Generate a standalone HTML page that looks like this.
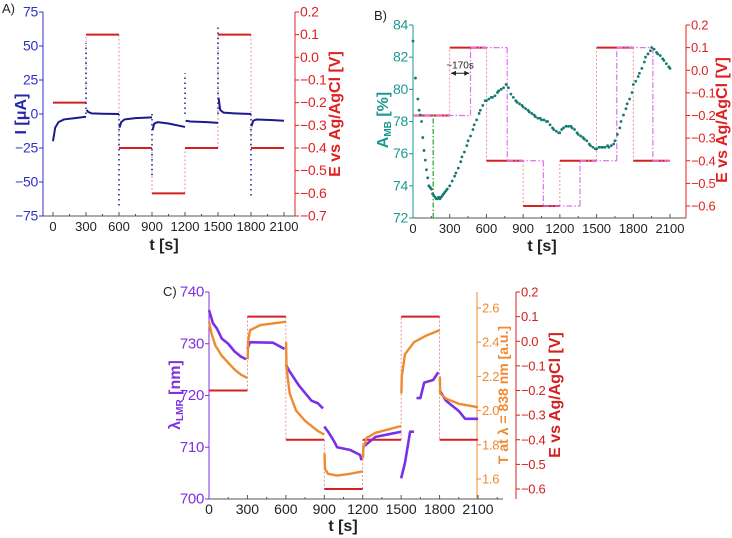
<!DOCTYPE html>
<html><head><meta charset="utf-8"><style>
body{margin:0;background:#fff;width:732px;height:538px;overflow:hidden}
svg{display:block;font-family:"Liberation Sans",sans-serif}
</style></head><body>
<svg id="fig" width="732" height="538"></svg>
<script>
// ---- shared potential program ----
const stepT = [0,300,600,900,1200,1500,1800,2100];
const stepE = [-0.2,0.1,-0.4,-0.6,-0.4,0.1,-0.4];
// ---- Panel A: current ----
const aSegs = [
 [[0,-20],[10,-15],[20,-10],[50,-6],[100,-4],[200,-3],[300,-2]],
 [[305,3],[320,1.5],[350,0.5],[450,0.2],[600,0]],
 [[605,-10],[620,-6],[650,-4],[750,-3],[900,-2.5]],
 [[905,-12],[920,-7],[950,-6],[1050,-7],[1200,-9.5]],
 [[1205,-5],[1250,-5.5],[1400,-6],[1500,-6.5]],
 [[1505,12],[1520,3],[1550,1],[1650,0.5],[1800,0]],
 [[1805,-9],[1820,-5],[1850,-4],[2000,-4.5],[2100,-5]]];
const aSpikeT = [300,600,900,1200,1500,1800];
const aSpikeV = [52,-68,-45,30,65,-61];
// ---- Panel B ----
const bT = [0,20,40,50,60,70,80,90,100,110,120,130,140,150,160,170,180,190,200,210,220,230,240,250,260,270,280,300,320,340,350,370,390,400,420,440,450,470,490,500,520,540,550,570,590,600,620,640,650,670,690,700,720,740,760,780,800,820,840,850,870,890,900,920,940,950,970,990,1000,1020,1040,1050,1070,1090,1100,1120,1140,1150,1170,1190,1200,1215,1230,1250,1270,1290,1300,1320,1340,1350,1370,1390,1400,1420,1440,1450,1470,1490,1500,1520,1540,1550,1570,1590,1600,1620,1640,1650,1670,1690,1700,1720,1740,1750,1770,1790,1800,1820,1840,1850,1870,1890,1900,1920,1940,1950,1970,1990,2000,2020,2040,2050,2070,2090,2100];
const bA = [83,80.7,79.4,78.7,78.4,78,77,76.2,75.6,75,74.5,74,73.9,73.8,73.5,73.4,73.3,73.2,73.2,73.3,73.2,73.3,73.4,73.5,73.6,73.7,73.8,74,74.3,74.6,74.8,75.1,75.5,75.8,76.1,76.5,76.8,77.1,77.5,77.8,78.1,78.5,78.7,79,79.3,79.3,79.4,79.5,79.5,79.6,79.8,79.9,80,80.1,80.3,80.1,79.7,79.5,79.3,79.2,79.1,79,78.9,78.8,78.7,78.6,78.5,78.4,78.3,78.2,78.2,78.1,78.1,78,78,77.8,77.6,77.5,77.4,77.3,77.3,77.5,77.6,77.7,77.7,77.7,77.6,77.5,77.3,77.2,77.1,77,76.9,76.8,76.6,76.5,76.4,76.3,76.3,76.4,76.4,76.4,76.4,76.5,76.4,76.5,76.6,76.8,77.2,77.6,78,78.4,78.8,79.1,79.4,79.8,80.3,80.5,80.8,81,81.3,81.7,82,82.2,82.4,82.6,82.5,82.3,82.2,82.1,81.9,81.8,81.6,81.4,81.3];
const bShiftT = [0,470,770,1065,1365,1665,1960,2100];
// ---- Panel C ----
const cLamSegs = [
 [[0,736.5],[30,734],[60,733],[100,731],[150,730],[200,728.5],[250,727.5],[290,727]],
 [[300,729],[320,730.3],[500,730.2],[590,729]],
 [[600,726],[620,725],[700,722],[750,720.5],[800,719],[850,718.5],[890,717.5]],
 [[900,714],[930,713],[980,711],[1000,710],[1100,709.5],[1180,708.5],[1190,707.5]],
 [[1200,710],[1250,711],[1300,712],[1400,712.5],[1500,713]],
 [[1500,704],[1530,707],[1550,710],[1570,713],[1600,713]],
 [[1620,719.5],[1650,719.5],[1680,722.5],[1750,723],[1790,724.5]],
 [[1800,721],[1850,719],[1900,718],[1950,717],[2000,715.5],[2100,715.5]]];
const cTSegs = [
 [[0,2.52],[20,2.45],[50,2.38],[100,2.32],[150,2.28],[200,2.24],[250,2.21],[300,2.19]],
 [[302,2.3],[305,2.4],[320,2.47],[400,2.5],[500,2.51],[600,2.52]],
 [[602,2.4],[605,2.25],[630,2.1],[680,2.0],[750,1.94],[850,1.88],[900,1.86]],
 [[902,1.75],[905,1.66],[930,1.63],[1000,1.62],[1100,1.63],[1200,1.645]],
 [[1202,1.72],[1205,1.78],[1230,1.84],[1300,1.87],[1400,1.89],[1500,1.91]],
 [[1502,2.1],[1505,2.2],[1530,2.33],[1600,2.4],[1700,2.44],[1800,2.47]],
 [[1802,2.2],[1805,2.1],[1850,2.07],[1950,2.04],[2100,2.02]]];
const xTicks = [0,300,600,900,1200,1500,1800,2100];

const NS="http://www.w3.org/2000/svg";
const svg=document.getElementById('fig');
function el(tag,attrs,parent,text){const e=document.createElementNS(NS,tag);for(const k in attrs)e.setAttribute(k,attrs[k]);if(text!==undefined)e.textContent=text;(parent||svg).appendChild(e);return e;}
function lin(d0,d1,r0,r1){return v=>r0+(v-d0)/(d1-d0)*(r1-r0);}
function fmt(v,dec){let s=v.toFixed(dec);if(v<0)s='\u2212'+s.slice(1);return s;}

function xAxis(g,x,y0,xl,xr,col,fs){
  const a=el('line',{x1:xl,y1:y0,x2:xr,y2:y0,stroke:col,'stroke-width':1},g);
  
  for(let t=0;t<=2300;t+=150){const px=x(t);if(px>xr)break;el('line',{x1:px,y1:y0,x2:px,y2:y0-(t%300?2:4),stroke:col},g);}
  xTicks.forEach(t=>{const tx=el('text',{x:x(t),y:y0+15,'text-anchor':'middle','font-size':fs||13,fill:'#222'},g,t);
    });
}
function yAxis(g,ax,y,ytop,ybot,ticks,dec,col,side,fs){
  const a=el('line',{x1:ax,y1:ytop,x2:ax,y2:ybot,stroke:col,'stroke-width':1},g);
  
  ticks.forEach(v=>{const py=y(v);
    el('line',{x1:ax,y1:py,x2:ax+(side<0?-4:4),y2:py,stroke:col},g);
    const tx=el('text',{x:ax+(side<0?-5:5),y:py+4.5,'text-anchor':side<0?'end':'start','font-size':fs||13,fill:col,'letter-spacing':'-0.3'},g,fmt(v,dec));
    });
}
function vtitle(g,x,y,txt,col,name,fs){const t=el('text',{x:x,y:y,transform:`rotate(-90 ${x} ${y})`,'text-anchor':'middle','font-size':fs||15,'font-weight':'bold',fill:col},g);
  t.innerHTML=txt;return t;}
function steps(g,x,yE,ts,col,w,name){
  for(let i=0;i<stepE.length;i++){
    const s=el('line',{x1:x(ts[i]),y1:yE(stepE[i]),x2:x(ts[i+1]),y2:yE(stepE[i]),stroke:col,'stroke-width':w},g);
    
    if(i>0){const v=el('line',{x1:x(ts[i]),y1:yE(stepE[i-1]),x2:x(ts[i]),y2:yE(stepE[i]),stroke:col,'stroke-width':0.8,'stroke-dasharray':'2,2','opacity':0.6},g);
      }
  }
}
function segs(g,x,y,arr,col,w,name){arr.forEach(s=>{const p=el('polyline',{points:s.map(q=>x(q[0])+','+y(q[1])).join(' '),fill:'none',stroke:col,'stroke-width':w,'stroke-linejoin':'round'},g);
  });}

// ===== Panel A =====
(function(){
 const g=el('g',{});
 const x=lin(0,2100,53,284), y=lin(75,-75,12,216), yE=lin(0.2,-0.7,12,216);
 el('text',{x:2,y:13,'font-size':13,fill:'#222'},g,'A)');
 xAxis(g,x,216,43,295,'#555');
 yAxis(g,43,y,12,216,[75,50,25,0,-25,-50,-75],0,'#3030c8',-1,14);
 yAxis(g,295,yE,12,216,[0.2,0.1,0,-0.1,-0.2,-0.3,-0.4,-0.5,-0.6,-0.7],1,'#e02020',1,14);
 steps(g,x,yE,stepT,'#d42020',2,'potential-step');
 segs(g,x,y,aSegs,'#1a1a8c',2,'current-trace');
 aSpikeT.forEach((t,i)=>{const s=el('line',{x1:x(t),y1:y(0),x2:x(t),y2:y(aSpikeV[i]),stroke:'#2a2aa0','stroke-width':1.6,'stroke-dasharray':'1.5,3.5'},g);
   });
 vtitle(g,26,114,'I [μA]','#2525b0','y-axis-title-current',16);
 vtitle(g,340,114,'E vs Ag/AgCl [V]','#e02020','y-axis-title-potential',16);
 const xt=el('text',{x:164,y:250,'text-anchor':'middle','font-size':16,'font-weight':'bold',fill:'#222'},g,'t [s]');
 
})();

// ===== Panel B =====
(function(){
 const g=el('g',{});
 const x=lin(0,2100,413,670), y=lin(84,72,25,218), yE=lin(0.2,-0.6,25,206);
 el('text',{x:374,y:20,'font-size':13,fill:'#222'},g,'B)');
 xAxis(g,x,218,413,686,'#555');
 yAxis(g,413,y,25,218,[84,82,80,78,76,74,72],0,'#1a9a90',-1,14);
 yAxis(g,686,yE,25,218,[0.2,0.1,0,-0.1,-0.2,-0.3,-0.4,-0.5,-0.6],1,'#e02020',1,13);
 steps(g,x,yE,stepT,'#d42020',2,'potential-step');
 for(let i=0;i<stepE.length;i++){
   const s=el('line',{x1:x(bShiftT[i]),y1:yE(stepE[i]),x2:x(bShiftT[i+1]),y2:yE(stepE[i]),stroke:'#e070f0','stroke-width':1.2,'stroke-dasharray':'6,2,1.5,2'},g);
   
   if(i>0){const v=el('line',{x1:x(bShiftT[i]),y1:yE(stepE[i-1]),x2:x(bShiftT[i]),y2:yE(stepE[i]),stroke:'#e070f0','stroke-width':1.2,'stroke-dasharray':'6,2,1.5,2'},g);
     }
 }
 const gl=el('line',{x1:x(165),y1:218,x2:x(165),y2:yE(-0.2),stroke:'#20a020','stroke-width':1.2,'stroke-dasharray':'5,2,1.5,2'},g);
 
 bT.forEach((t,i)=>{const c=el('circle',{cx:x(t),cy:y(bA[i]),r:1.4,fill:'#157a72'},g);
   });
 const ar=el('line',{x1:x(310),y1:y(81),x2:x(460),y2:y(81),stroke:'#222','stroke-width':1},g);
 
 el('path',{d:`M${x(310)},${y(81)} l5,-2.5 v5 z M${x(460)},${y(81)} l-5,-2.5 v5 z`,fill:'#222'},g);
 el('text',{x:x(385),y:y(81)-5,'text-anchor':'middle','font-size':10,fill:'#222'},g,'~170s');
 vtitle(g,388,120,'A<tspan font-size="10" dy="3">MB</tspan><tspan dy="-3"> [%]</tspan>','#1a9a90','y-axis-title-absorbance',16);
 vtitle(g,727,120,'E vs Ag/AgCl [V]','#e02020','y-axis-title-potential',16);
 const xt=el('text',{x:542,y:251,'text-anchor':'middle','font-size':16,'font-weight':'bold',fill:'#222'},g,'t [s]');
 
})();

// ===== Panel C =====
(function(){
 const g=el('g',{});
 const x=lin(0,2100,209,478), y=lin(740,700,292,499), yT=lin(2.6,1.6,308,479), yE=lin(0.2,-0.6,292,489);
 el('text',{x:163,y:296,'font-size':13,fill:'#222'},g,'C)');
 xAxis(g,x,499,209,503,'#555',14);
 yAxis(g,209,y,292,499,[740,730,720,710,700],0,'#8030e0',-1,15);
 yAxis(g,477,yT,292,499,[2.6,2.4,2.2,2.0,1.8,1.6],1,'#f08a30',1,13);
 yAxis(g,516,yE,292,499,[0.2,0.1,0,-0.1,-0.2,-0.3,-0.4,-0.5,-0.6],1,'#d42020',1,13);
 steps(g,x,yE,stepT,'#d42020',2,'potential-step');
 segs(g,x,y,cLamSegs,'#7a30e8',2.6,'lmr-wavelength');
 segs(g,x,yT,cTSegs,'#f08a30',2.4,'transmission');
 vtitle(g,180,395,'λ<tspan font-size="10" dy="3">LMR</tspan><tspan dy="-3"> [nm]</tspan>','#8030e0','y-axis-title-wavelength',16);
 vtitle(g,508,395,'T at λ = 838 nm [a.u.]','#f08a30','y-axis-title-transmission',14);
 vtitle(g,560,395,'E vs Ag/AgCl [V]','#d42020','y-axis-title-potential',16);
 const xt=el('text',{x:343,y:531,'text-anchor':'middle','font-size':16,'font-weight':'bold',fill:'#222'},g,'t [s]');
 
})();
</script>
</body></html>
